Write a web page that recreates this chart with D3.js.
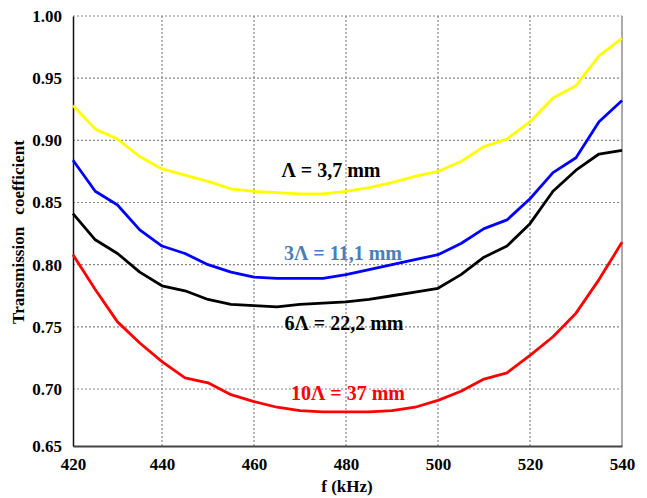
<!doctype html>
<html>
<head>
    <style>
        body { margin: 0; background: #fff; }
        text { font-family: 'Liberation Serif', 'Times New Roman', serif; font-weight: bold; }
    </style>
    <script src="https://d3js.org/d3.v7.min.js"></script>
</head>
<body>
    <script>
        // frequencies (kHz)
        var freq = [420, 425, 430, 435, 440, 445, 450, 455, 460, 465, 470, 475, 480,
                    485, 490, 495, 500, 505, 510, 515, 520, 525, 530, 535, 540];

        var lambda1 = [0.928, 0.909, 0.901, 0.887, 0.877, 0.872, 0.867, 0.861, 0.859, 0.858, 0.857, 0.857, 0.859,
                       0.862, 0.866, 0.871, 0.875, 0.883, 0.895, 0.901, 0.915, 0.934, 0.944, 0.968, 0.982];
        var lambda3 = [0.884, 0.859, 0.848, 0.828, 0.815, 0.809, 0.800, 0.794, 0.790, 0.789, 0.789, 0.789, 0.792,
                       0.796, 0.800, 0.804, 0.808, 0.817, 0.829, 0.836, 0.853, 0.874, 0.886, 0.915, 0.932];
        var lambda6 = [0.841, 0.820, 0.809, 0.794, 0.783, 0.779, 0.772, 0.768, 0.767, 0.766, 0.768, 0.769, 0.770,
                       0.772, 0.775, 0.778, 0.781, 0.792, 0.806, 0.815, 0.833, 0.859, 0.876, 0.889, 0.892];
        var lambda10 = [0.808, 0.780, 0.754, 0.737, 0.722, 0.709, 0.705, 0.695, 0.689, 0.684, 0.681, 0.680, 0.680,
                        0.680, 0.681, 0.684, 0.690, 0.698, 0.708, 0.713, 0.727, 0.742, 0.761, 0.788, 0.818];

        var xTicks = [420, 440, 460, 480, 500, 520, 540];
        var yTicks = [0.65, 0.70, 0.75, 0.80, 0.85, 0.90, 0.95, 1.00];

        var series = [
            { name: "Λ = 3,7 mm", values: lambda1, color: "#ffff00", label: "#000", lx: 331, ly: 170 },
            { name: "3Λ = 11,1 mm", values: lambda3, color: "#0000ff", label: "#4a7ebb", lx: 343, ly: 253 },
            { name: "6Λ = 22,2 mm", values: lambda6, color: "#000000", label: "#000", lx: 344, ly: 323 },
            { name: "10Λ = 37 mm", values: lambda10, color: "#ff0000", label: "#ff0000", lx: 348, ly: 393 }
        ];

        var svg = d3.select("body").append("svg").attr("width", 647).attr("height", 498);

        // the scanned plot is slightly uneven, so the scales follow its grid
        var x = d3.scaleLinear().domain([420, 440, 540]).range([73, 162, 622]);
        var y = d3.scaleLinear().domain([0.65, 0.70, 1.00]).range([446, 389, 16]);

        // grid
        svg.append("g").selectAll("line.gy")
            .data(yTicks.slice(1))
            .enter().append("line")
            .attr("x1", x(420)).attr("x2", x(540))
            .attr("y1", function(d) { return y(d); })
            .attr("y2", function(d) { return y(d); })
            .attr("stroke", "#888")
            .attr("stroke-width", 1.2)
            .attr("stroke-dasharray", "2,2");

        svg.append("g").selectAll("line.gx")
            .data(xTicks.slice(1, -1))
            .enter().append("line")
            .attr("x1", function(d) { return x(d); })
            .attr("x2", function(d) { return x(d); })
            .attr("y1", y(0.65)).attr("y2", y(1.00))
            .attr("stroke", "#888")
            .attr("stroke-width", 1.2)
            .attr("stroke-dasharray", "2,2");

        // right border
        svg.append("line")
            .attr("x1", x(540)).attr("x2", x(540))
            .attr("y1", y(0.65)).attr("y2", y(1.00))
            .attr("stroke", "#aaa").attr("stroke-width", 2);

        // axes
        var xAxis = svg.append("g")
            .attr("transform", "translate(0," + y(0.65) + ")")
            .call(d3.axisBottom(x).tickValues(xTicks).tickSize(0).tickPadding(12).tickFormat(d3.format("d")));
        xAxis.attr("font-family", null);
        xAxis.select(".domain").attr("stroke", "#444").attr("stroke-width", 2);
        xAxis.selectAll("text").attr("font-size", 17).attr("fill", "#000");

        var yAxis = svg.append("g")
            .attr("transform", "translate(" + x(420) + ",0)")
            .call(d3.axisLeft(y).tickValues(yTicks).tickSize(0).tickPadding(11).tickFormat(d3.format(".2f")));
        yAxis.attr("font-family", null);
        yAxis.select(".domain").attr("stroke", "#111").attr("stroke-width", 1.5);
        yAxis.selectAll("text").attr("font-size", 17).attr("fill", "#000");

        // lines
        var line = d3.line()
            .x(function(d, i) { return x(freq[i]); })
            .y(function(d) { return y(d); });

        svg.append("g").selectAll("path.series")
            .data(series)
            .enter().append("path")
            .attr("fill", "none")
            .attr("stroke", function(d) { return d.color; })
            .attr("stroke-width", 2.8)
            .attr("stroke-linejoin", "round")
            .attr("d", function(d) { return line(d.values); });

        svg.append("g").selectAll("text.lab")
            .data(series)
            .enter().append("text")
            .attr("x", function(d) { return d.lx; })
            .attr("y", function(d) { return d.ly; })
            .attr("dy", "0.35em")
            .attr("text-anchor", "middle")
            .attr("font-size", 20)
            .attr("fill", function(d) { return d.label; })
            .text(function(d) { return d.name; });

        // axis titles
        svg.append("text")
            .attr("x", 347).attr("y", 486)
            .attr("dy", "0.35em")
            .attr("text-anchor", "middle")
            .attr("font-size", 17)
            .text("f (kHz)");

        svg.append("text")
            .attr("transform", "translate(18,232) rotate(-90)")
            .attr("dy", "0.35em")
            .attr("text-anchor", "middle")
            .attr("font-size", 17)
            .attr("word-spacing", 8)
            .text("Transmission coefficient");
    </script>
</body>
</html>
